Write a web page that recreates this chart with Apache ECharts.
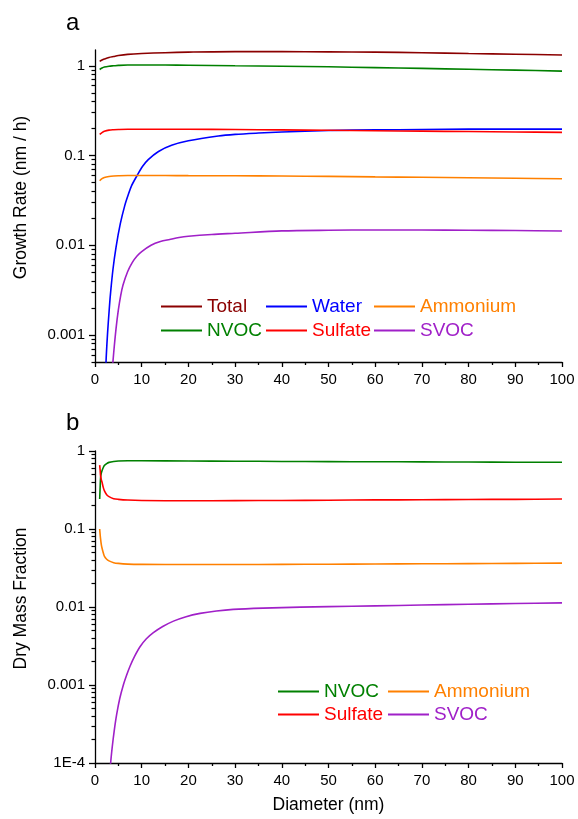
<!DOCTYPE html>
<html><head><meta charset="utf-8">
<script src="https://cdn.jsdelivr.net/npm/echarts@6/dist/echarts.min.js"></script>
<style>html,body{margin:0;padding:0;background:#fff}#c{width:578px;height:819px}</style>
</head><body><div id="c"></div>
<script>
// ---------- Panel a: growth rate (nm / h) vs diameter (nm) ----------
const xA = [1, 1.5, 2, 3, 4, 5, 7, 10, 15, 20, 30, 40, 50, 60, 70, 80, 90, 100];
const totalA    = [1.12, 1.16, 1.19, 1.24, 1.27, 1.30, 1.34, 1.37, 1.40, 1.42, 1.44, 1.44, 1.43, 1.42, 1.40, 1.37, 1.345, 1.32];
const nvocA     = [0.91, 0.945, 0.97, 0.99, 1.0, 1.01, 1.02, 1.02, 1.02, 1.015, 1.0, 0.99, 0.975, 0.955, 0.935, 0.915, 0.895, 0.873];
const sulfateA  = [0.172, 0.18, 0.186, 0.192, 0.194, 0.195, 0.196, 0.196, 0.196, 0.196, 0.195, 0.193, 0.191, 0.189, 0.187, 0.185, 0.183, 0.181];
const ammoniumA = [0.0524, 0.0552, 0.057, 0.0585, 0.0592, 0.0595, 0.0598, 0.0598, 0.0598, 0.0597, 0.0595, 0.0591, 0.0585, 0.0578, 0.0572, 0.0565, 0.0558, 0.0552];
const waterX = [2.2, 2.36, 2.7, 3.0, 3.28, 3.85, 4.5, 5.42, 6.4, 7.1, 7.84, 9.1, 10.2, 11.4, 13.6, 16.4, 20, 26.4, 30, 35, 40, 50, 60, 70, 80, 90, 100];
const waterA = [0.0002, 0.0005, 0.00107, 0.00178, 0.00275, 0.0054, 0.0095, 0.0174, 0.028, 0.0363, 0.0462, 0.061, 0.0759, 0.090, 0.111, 0.130, 0.146, 0.165, 0.172, 0.178, 0.183, 0.19, 0.193, 0.195, 0.197, 0.197, 0.197];
const svocXA = [3.6, 4, 4.5, 5, 5.5, 6, 7, 8, 9, 10, 12, 14, 16, 18, 20, 25, 30, 40, 50, 60, 70, 80, 90, 100];
const svocA  = [0.00035, 0.00063, 0.00117, 0.0019, 0.00275, 0.0036, 0.0051, 0.00645, 0.0076, 0.0085, 0.010, 0.011, 0.0116, 0.0122, 0.0126, 0.0132, 0.0136, 0.01445, 0.0147, 0.0148, 0.0148, 0.0147, 0.0146, 0.0144];

// ---------- Panel b: dry mass fraction vs diameter (nm) ----------
const xB = [1, 1.1, 1.2, 1.35, 1.5, 1.75, 2, 2.5, 3, 4, 5, 7, 10, 20, 30, 40, 50, 60, 70, 80, 90, 100];
const nvocB     = [0.242, 0.34, 0.46, 0.52, 0.56, 0.61, 0.65, 0.69, 0.715, 0.735, 0.745, 0.75, 0.75, 0.745, 0.74, 0.735, 0.731, 0.728, 0.725, 0.722, 0.719, 0.716];
const sulfateB  = [0.66, 0.57, 0.48, 0.43, 0.40, 0.345, 0.31, 0.275, 0.26, 0.245, 0.24, 0.235, 0.232, 0.23, 0.231, 0.232, 0.234, 0.236, 0.237, 0.239, 0.24, 0.242];
const ammoniumB = [0.1, 0.085, 0.074, 0.063, 0.057, 0.05, 0.045, 0.041, 0.039, 0.037, 0.0362, 0.0355, 0.0352, 0.035, 0.035, 0.0352, 0.0354, 0.0356, 0.0358, 0.036, 0.0362, 0.0365];
const svocXB = [3.1, 3.35, 3.7, 4.1, 4.64, 5.3, 6.07, 6.8, 7.5, 8.5, 9.64, 11, 12.5, 14.5, 16.8, 19.5, 22.5, 26, 29.6, 36, 44, 50, 60, 70, 80, 90, 100];
const svocB  = [0.00006, 0.0001, 0.000162, 0.000255, 0.000419, 0.000671, 0.001, 0.00135, 0.00174, 0.00234, 0.00309, 0.00391, 0.00468, 0.00562, 0.00659, 0.00752, 0.00828, 0.0089, 0.00933, 0.00968, 0.00995, 0.01012, 0.01035, 0.01059, 0.01084, 0.01107, 0.0113];

// ---------- Tick labels ----------
const yTicksA = [0.001, 0.01, 0.1, 1];
const yTickLabelsA = ['0.001', '0.01', '0.1', '1'];
const yMinorA = [0.0005, 0.0006, 0.0007, 0.0008, 0.0009, 0.002, 0.003, 0.004, 0.005, 0.006, 0.007, 0.008, 0.009,
                 0.02, 0.03, 0.04, 0.05, 0.06, 0.07, 0.08, 0.09, 0.2, 0.3, 0.4, 0.5, 0.6, 0.7, 0.8, 0.9];
const yTicksB = [0.0001, 0.001, 0.01, 0.1, 1];
const yTickLabelsB = ['1E-4', '0.001', '0.01', '0.1', '1'];
const yMinorB = [0.0002, 0.0003, 0.0004, 0.0005, 0.0006, 0.0007, 0.0008, 0.0009, 0.002, 0.003, 0.004, 0.005, 0.006, 0.007, 0.008, 0.009,
                 0.02, 0.03, 0.04, 0.05, 0.06, 0.07, 0.08, 0.09, 0.2, 0.3, 0.4, 0.5, 0.6, 0.7, 0.8, 0.9];

const FONT = '"Liberation Sans", Arial, sans-serif';
const COLORS = {Total:'#8B0000', NVOC:'#008000', Water:'#0000FF', Sulfate:'#FF0000', Ammonium:'#FF8000', SVOC:'#A020C8'};

const pair = (xs, ys) => xs.map((x, i) => [x, ys[i]]);
const labelFor = (ticks, labels) => v => {
  let best = 0, bd = Infinity;
  ticks.forEach((t, i) => { const d = Math.abs(Math.log10(v) - Math.log10(t)); if (d < bd) { bd = d; best = i; } });
  return bd < 0.01 ? labels[best] : '';
};

const axisLineStyle = {color:'#000', width:1.3};
function xAx(gi, name) {
  return {
    type:'value', gridIndex:gi, min:0, max:100, interval:10,
    axisLine:{show:true, onZero:false, lineStyle:axisLineStyle},
    axisTick:{show:true, length:5, lineStyle:{color:'#000', width:1.3}},
    minorTick:{show:true, splitNumber:2, length:3, lineStyle:{color:'#000', width:1.3}},
    axisLabel:{color:'#000', fontSize:15, fontFamily:FONT, margin:10},
    splitLine:{show:false}, minorSplitLine:{show:false},
    name:name, nameLocation:'middle', nameGap:33,
    nameTextStyle:{color:'#000', fontSize:17.5, fontFamily:FONT}
  };
}
function yMajor(gi, min, max, ticks, labels, name) {
  return {
    type:'log', logBase:10, gridIndex:gi, min:min, max:max, position:'left', offset:0,
    axisLine:{show:true, onZero:false, lineStyle:axisLineStyle},
    axisTick:{show:true, length:6, customValues:ticks, lineStyle:{color:'#000', width:1.3}},
    axisLabel:{show:true, customValues:ticks, formatter:labelFor(ticks, labels), color:'#000', fontSize:15, fontFamily:FONT, margin:10},
    splitLine:{show:false},
    name:name, nameLocation:'middle', nameGap:65,
    nameTextStyle:{color:'#000', fontSize:17.5, fontFamily:FONT, padding:[0,0,0,17]}
  };
}
function yMinor(gi, min, max, ticks) {
  return {
    type:'log', logBase:10, gridIndex:gi, min:min, max:max, position:'left', offset:0,
    axisLine:{show:false},
    axisTick:{show:true, length:3.5, customValues:ticks, lineStyle:{color:'#000', width:1.2}},
    axisLabel:{show:false}, splitLine:{show:false}
  };
}
function ser(name, data, xi, yi) {
  return {
    name:name, type:'line', xAxisIndex:xi, yAxisIndex:yi, data:data,
    showSymbol:false, symbol:'none', smooth:0.3, clip:true,
    color:COLORS[name], itemStyle:{color:COLORS[name]},
    lineStyle:{color:COLORS[name], width:1.6}
  };
}
function leg(name, left, top) {
  return {
    left:left, top:top, padding:0, itemWidth:41, itemHeight:2, icon:'rect', itemGap:0,
    selectedMode:false,
    data:[{name:name, textStyle:{color:COLORS[name]}}],
    textStyle:{fontSize:19, fontFamily:FONT, padding:[0,0,0,0]}
  };
}

const chart = echarts.init(document.getElementById('c'), null, {renderer:'canvas'});
chart.setOption({
  animation:false,
  backgroundColor:'#fff',
  grid:[
    {left:95, top:50, width:467, height:312},
    {left:95, top:451, width:467, height:312}
  ],
  xAxis:[xAx(0, ''), xAx(1, 'Diameter (nm)')],
  yAxis:[
    yMajor(0, 0.0005, 1.5, yTicksA, yTickLabelsA, 'Growth Rate (nm / h)'),
    yMinor(0, 0.0005, 1.5, yMinorA),
    yMajor(1, 0.0001, 1, yTicksB, yTickLabelsB, 'Dry Mass Fraction'),
    yMinor(1, 0.0001, 1, yMinorB)
  ],
  legend:[
    leg('Total', 161, 297), leg('Water', 266, 297), leg('Ammonium', 374, 297),
    leg('NVOC', 161, 321), leg('Sulfate', 266, 321), leg('SVOC', 374, 321),
    leg('NVOC', 278, 682), leg('Ammonium', 388, 682),
    leg('Sulfate', 278, 705), leg('SVOC', 388, 705)
  ],
  graphic:[
    {type:'text', left:66, top:11, style:{text:'a', font:'24px "Liberation Sans", Arial, sans-serif', fill:'#000'}},
    {type:'text', left:66, top:411, style:{text:'b', font:'24px "Liberation Sans", Arial, sans-serif', fill:'#000'}}
  ],
  series:[
    ser('Total', pair(xA, totalA), 0, 0),
    ser('NVOC', pair(xA, nvocA), 0, 0),
    ser('Water', pair(waterX, waterA), 0, 0),
    ser('Sulfate', pair(xA, sulfateA), 0, 0),
    ser('Ammonium', pair(xA, ammoniumA), 0, 0),
    ser('SVOC', pair(svocXA, svocA), 0, 0),
    ser('NVOC', pair(xB, nvocB), 1, 2),
    ser('Sulfate', pair(xB, sulfateB), 1, 2),
    ser('Ammonium', pair(xB, ammoniumB), 1, 2),
    ser('SVOC', pair(svocXB, svocB), 1, 2)
  ]
});
</script></body></html>
